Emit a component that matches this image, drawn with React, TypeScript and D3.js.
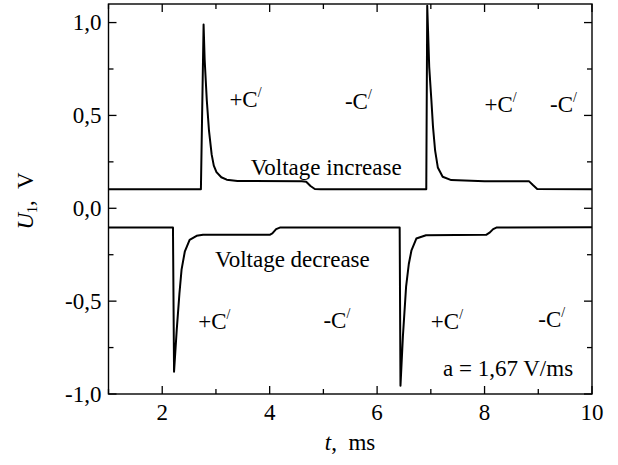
import React from "react";
import * as d3 from "d3";

const W = 618;
const H = 465;

// Traces: [t (ms), U1 (V)]
const increaseTrace: [number, number][] = [
  [1.0, 0.102], [2.72, 0.102], [2.77, 0.99], [2.79, 0.8], [2.83, 0.58], [2.87, 0.42],
  [2.92, 0.29], [2.96, 0.23], [3.01, 0.195], [3.1, 0.167], [3.2, 0.154], [3.4, 0.147],
  [4.6, 0.145], [4.68, 0.143], [4.76, 0.12], [4.84, 0.104], [4.95, 0.102],
  [6.915, 0.102], [6.933, 1.09], [6.97, 0.76], [7.01, 0.583], [7.04, 0.44], [7.08, 0.31],
  [7.13, 0.22], [7.22, 0.17], [7.38, 0.152], [8.0, 0.146], [8.83, 0.145], [8.9, 0.125],
  [8.98, 0.104], [10.0, 0.102],
];

const decreaseTrace: [number, number][] = [
  [1.0, -0.103], [2.2, -0.103], [2.22, -0.88], [2.27, -0.655], [2.32, -0.46], [2.36, -0.33],
  [2.42, -0.234], [2.51, -0.17], [2.64, -0.148], [2.76, -0.142], [4.0, -0.143], [4.05, -0.135],
  [4.12, -0.112], [4.19, -0.104], [6.42, -0.103], [6.435, -0.955], [6.48, -0.69], [6.54, -0.42],
  [6.59, -0.3], [6.64, -0.226], [6.73, -0.163], [6.91, -0.145], [8.03, -0.143], [8.1, -0.13],
  [8.16, -0.112], [8.22, -0.104], [10.0, -0.102],
];

const xMajorTicks = [2, 4, 6, 8, 10];
const xTickLabels = ["2", "4", "6", "8", "10"];
const xMinorTicks = [1, 3, 5, 7, 9];
const yMajorTicks = [-1.0, -0.5, 0.0, 0.5, 1.0];
const yTickLabels = ["-1,0", "-0,5", "0,0", "0,5", "1,0"];
const yMinorTicks = [-0.75, -0.25, 0.25, 0.75];

// Annotations: [t, U, text]
const cAnnotations: [number, number, string][] = [
  [3.25, 0.548, "+C"],
  [5.4, 0.532, "-C"],
  [8.0, 0.516, "+C"],
  [9.22, 0.521, "-C"],
  [2.67, -0.649, "+C"],
  [5.0, -0.644, "-C"],
  [7.0, -0.649, "+C"],
  [9.0, -0.639, "-C"],
];

const FONT = "'Liberation Serif', 'Times New Roman', serif";

export default function App() {
  const left = 108.5;
  const right = 592;
  const top = 4;
  const bottom = 394;
  const x = d3.scaleLinear().domain([1, 10]).range([left, right]);
  const y = d3.scaleLinear().domain([-1.0, 1.1]).range([bottom, top]);
  const line = d3
    .line<[number, number]>()
    .x((d) => x(d[0]))
    .y((d) => y(d[1]));

  const major = 8;
  const minor = 5;
  const fs = 23;

  return (
    <svg
      width={W}
      height={H}
      style={{ position: "absolute", left: 0, top: 0, background: "#fff" }}
      fontFamily={FONT}
    >
      <rect x={0} y={0} width={W} height={H} fill="#fff" />
      <defs>
        <clipPath id="plotclip">
          <rect x={left} y={top} width={right - left} height={bottom - top} />
        </clipPath>
      </defs>
      <g clipPath="url(#plotclip)" fill="none" stroke="#000" strokeWidth={2} strokeLinejoin="round">
        <path d={line(increaseTrace) || ""} />
        <path d={line(decreaseTrace) || ""} />
      </g>

      {/* frame */}
      <rect x={left} y={top} width={right - left} height={bottom - top} fill="none" stroke="#000" strokeWidth={1.4} />

      {/* ticks */}
      <g stroke="#000" strokeWidth={1.3}>
        {xMajorTicks.map((t) => (
          <g key={"xm" + t}>
            <line x1={x(t)} x2={x(t)} y1={bottom} y2={bottom - major} />
            <line x1={x(t)} x2={x(t)} y1={top} y2={top + major} />
          </g>
        ))}
        {xMinorTicks.map((t) => (
          <g key={"xn" + t}>
            <line x1={x(t)} x2={x(t)} y1={bottom} y2={bottom - minor} />
            <line x1={x(t)} x2={x(t)} y1={top} y2={top + minor} />
          </g>
        ))}
        {yMajorTicks.map((v) => (
          <g key={"ym" + v}>
            <line x1={left} x2={left + major} y1={y(v)} y2={y(v)} />
            <line x1={right} x2={right - major} y1={y(v)} y2={y(v)} />
          </g>
        ))}
        {yMinorTicks.map((v) => (
          <g key={"yn" + v}>
            <line x1={left} x2={left + minor} y1={y(v)} y2={y(v)} />
            <line x1={right} x2={right - minor} y1={y(v)} y2={y(v)} />
          </g>
        ))}
      </g>

      {/* tick labels */}
      <g fontSize={fs} fill="#000">
        {xMajorTicks.map((t, i) => (
          <text key={"xl" + t} x={x(t)} y={420} textAnchor="middle">
            {xTickLabels[i]}
          </text>
        ))}
        {yMajorTicks.map((v, i) => (
          <text key={"yl" + v} x={101.5} y={y(v) + 7.5} textAnchor="end">
            {yTickLabels[i]}
          </text>
        ))}
      </g>

      {/* axis titles */}
      <text x={350} y={450} textAnchor="middle" fontSize={fs} fill="#000" style={{ whiteSpace: "pre" }}>
        <tspan fontStyle="italic">t</tspan>
        <tspan>{",  ms"}</tspan>
      </text>
      <text
        transform="translate(33,201) rotate(-90)"
        textAnchor="middle"
        fontSize={fs}
        fill="#000"
        style={{ whiteSpace: "pre" }}
      >
        <tspan fontStyle="italic">U</tspan>
        <tspan fontSize={14} dy={4}>1</tspan>
        <tspan dy={-4}>{",  V"}</tspan>
      </text>

      {/* annotations */}
      <g fontSize={fs} fill="#000">
        {cAnnotations.map(([t, v, s], i) => (
          <text key={"c" + i} x={x(t)} y={y(v)}>
            {s}
            <tspan fontSize={14} dy={-10}>/</tspan>
          </text>
        ))}
        <text x={250.7} y={175}>Voltage increase</text>
        <text x={215} y={266.7}>Voltage decrease</text>
        <text x={443} y={376}>a = 1,67 V/ms</text>
      </g>
    </svg>
  );
}
